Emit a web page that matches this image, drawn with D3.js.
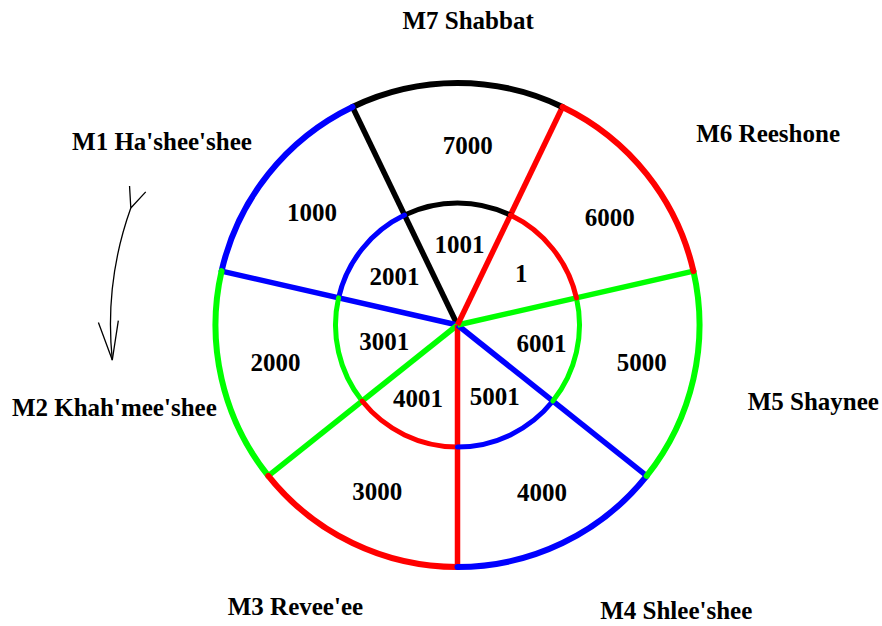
<!DOCTYPE html>
<html>
<head>
<meta charset="utf-8">
<script src="https://cdn.jsdelivr.net/npm/d3@7"></script>
<style>
  html, body { margin: 0; padding: 0; background: #fff; }
  svg { display: block; }
  text { font-family: "Liberation Serif", "Times New Roman", serif; font-weight: bold; font-size: 25px; fill: #000; }
</style>
</head>
<body>
<svg id="chart" width="882" height="626"></svg>
<script>
// ---- data (clockwise from the top) ----
const sectorNames = ["M7 Shabbat", "M6 Reeshone", "M5 Shaynee", "M4 Shlee'shee", "M3 Revee'ee", "M2 Khah'mee'shee", "M1 Ha'shee'shee"];
const outerValues = [7000, 6000, 5000, 4000, 3000, 2000, 1000];
const innerValues = [1001, 1, 6001, 5001, 4001, 3001, 2001];
const sectorColors = ["#000000", "#ff0000", "#00ff00", "#0000ff", "#ff0000", "#00ff00", "#0000ff"];
const drawOrder = [0, 6, 5, 4, 3, 2, 1];
// label layout: [angle offset (deg) from sector centre, radius]
const nameLayout = [[2, 304], [6.9, 365], [-0.7, 364], [-11.7, 360], [4.2, 325], [-0.7, 353], [-6.7, 348]];
const outerLayout = [[3.3, 180], [3.5, 186], [-1.3, 188], [-1, 188], [0, 185], [1.1, 186], [-0.8, 184]];
const innerLayout = [[1.4, 80], [-0.5, 82], [-0.5, 86], [-1.7, 81], [2.3, 84], [0.2, 75], [-0.9, 79.5]];

// ---- layout ----
const cx = 457.5, cy = 325;
const R = 242, r = 122;
const n = sectorNames.length;
const svg = d3.select("#chart");

const angle = d3.scaleLinear().domain([0, n]).range([-Math.PI / n, 2 * Math.PI - Math.PI / n]);
const deg = d => d * Math.PI / 180;
const px = (a, rr) => cx + rr * Math.sin(a);
const py = (a, rr) => cy - rr * Math.cos(a);

// spokes
const gSpokes = svg.append("g");
drawOrder.forEach(i => {
  const a = angle(i);
  gSpokes.append("line")
    .attr("x1", cx).attr("y1", cy)
    .attr("x2", px(a, R)).attr("y2", py(a, R))
    .attr("stroke", sectorColors[i]).attr("stroke-width", 5.5)
    .attr("stroke-linecap", "butt");
});

// rings
function ringArc(i, rad) {
  const p = d3.path();
  p.arc(cx, cy, rad, angle(i) - Math.PI / 2, angle(i + 1) - Math.PI / 2, false);
  return p.toString();
}
const gRings = svg.append("g");
[[r, 5], [R, 6]].forEach(([rad, w]) => {
  drawOrder.forEach(i => {
    gRings.append("path")
      .attr("d", ringArc(i, rad))
      .attr("fill", "none")
      .attr("stroke", sectorColors[i])
      .attr("stroke-width", w)
      .attr("stroke-linecap", "round");
  });
});

// labels
const gLab = svg.append("g").attr("text-anchor", "middle");
function placeLabels(texts, layout) {
  texts.forEach((s, i) => {
    const a = angle(i + 0.5) + deg(layout[i][0]);
    const rr = layout[i][1];
    gLab.append("text").attr("x", px(a, rr)).attr("y", py(a, rr) + 8.3).text(s);
  });
}
placeLabels(outerValues, outerLayout);
placeLabels(innerValues, innerLayout);
placeLabels(sectorNames, nameLayout);

// direction arrow (counter-clockwise)
const arrowR = 347;
const t0 = deg(289.7), t1 = deg(264.2);
const ap = d3.path();
ap.arc(cx, cy, arrowR, t0 - Math.PI / 2, t1 - Math.PI / 2, true);
function barbs(theta, spread, len) {
  const x0 = px(theta, arrowR), y0 = py(theta, arrowR);
  const tx = Math.cos(theta), ty = Math.sin(theta);
  const s = deg(spread);
  const p = d3.path();
  [-s, s].forEach(d => {
    const bx = tx * Math.cos(d) - ty * Math.sin(d);
    const by = tx * Math.sin(d) + ty * Math.cos(d);
    p.moveTo(x0, y0);
    p.lineTo(x0 + bx * len, y0 + by * len);
  });
  return p.toString();
}
const gArrow = svg.append("g").attr("fill", "none").attr("stroke", "#000").attr("stroke-width", 1.3);
gArrow.append("path").attr("d", ap.toString());
gArrow.append("path").attr("d", barbs(t1, 14.5, 40));
gArrow.append("path").attr("d", barbs(t0, 23, 22));
</script>
</body>
</html>
